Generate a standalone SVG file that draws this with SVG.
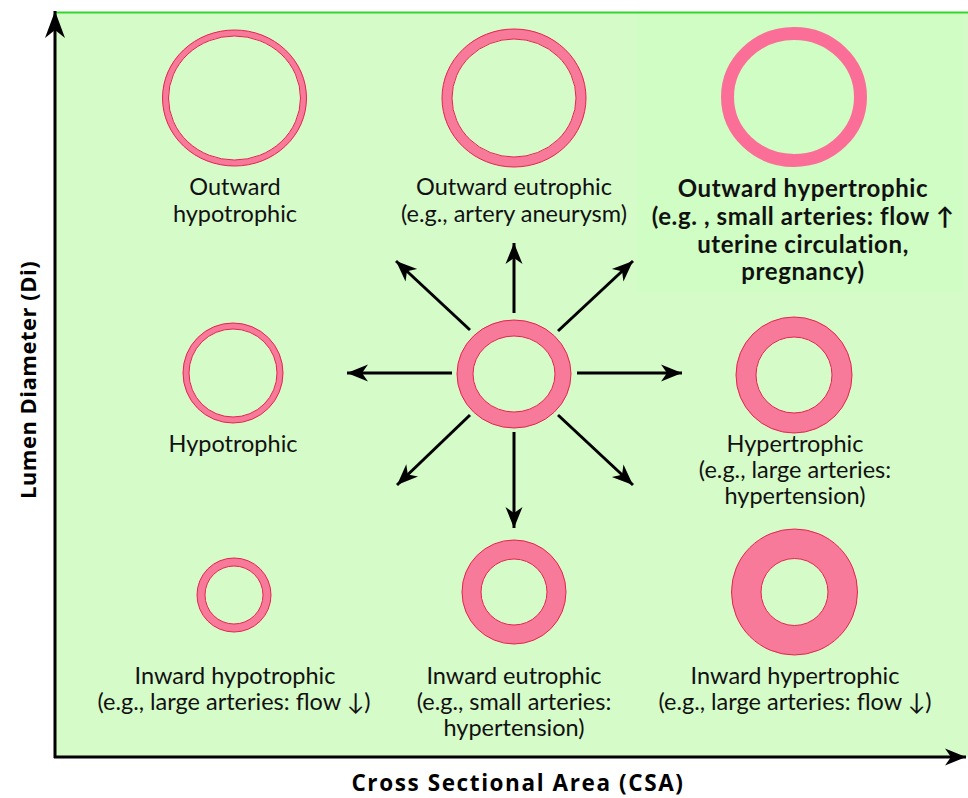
<svg xmlns="http://www.w3.org/2000/svg" width="968" height="798" viewBox="0 0 968 798">
<style>
.bg{fill:#d5fbc9}
.ring{fill:none;stroke:#f77a9b}
.edge{fill:none;stroke:#e6234e;stroke-width:1}
.lbl{font-family:Lato,"Open Sans",sans-serif;font-size:23.5px;fill:#111;text-anchor:middle}
.blbl{font-family:Lato,"Open Sans",sans-serif;font-size:24px;font-weight:bold;fill:#111;text-anchor:middle;letter-spacing:0.6px}
.axl{font-family:"Open Sans","Liberation Sans",sans-serif;font-weight:bold;fill:#000;text-anchor:middle}
.arr{stroke:#000;stroke-width:3;fill:none;marker-end:url(#ah)}
</style>
<defs>
<marker id="ah" markerUnits="userSpaceOnUse" markerWidth="24" markerHeight="20" viewBox="-22 -10 24 20" refX="0" refY="0" orient="auto">
<path d="M0,0 L-21,-8.5 L-15,0 L-21,8.5 Z" fill="#000"/>
</marker>
<marker id="ahy" markerUnits="userSpaceOnUse" markerWidth="30" markerHeight="24" viewBox="-28 -12 30 24" refX="0" refY="0" orient="auto">
<path d="M0,0 L-27,-10 L-19,0 L-27,10 Z" fill="#000"/>
</marker>
</defs>
<rect class="bg" x="55" y="12" width="913" height="745"/>
<rect x="637" y="13" width="326" height="279" fill="#cffdc3"/>
<line x1="55" y1="12.5" x2="968" y2="12.5" stroke="#35d62c" stroke-width="2"/>
<g id="axes">
<line x1="55" y1="758" x2="55" y2="11" stroke="#000" stroke-width="3" marker-end="url(#ahy)"/>
<line x1="54" y1="757" x2="966" y2="757" stroke="#000" stroke-width="3" marker-end="url(#ah)"/>
<text class="axl" x="518" y="791" style="font-size:22.5px;letter-spacing:1.6px">Cross Sectional Area (CSA)</text>
<text class="axl" transform="translate(36,380) rotate(-90)" x="0" y="0" style="font-size:22px;letter-spacing:0.5px">Lumen Diameter (Di)</text>
</g>
<g id="connectors">
<line class="arr" x1="514" y1="313" x2="514" y2="243"/>
<line class="arr" x1="514" y1="432" x2="514" y2="528"/>
<line class="arr" x1="452" y1="373" x2="347" y2="373"/>
<line class="arr" x1="577" y1="373" x2="682" y2="373"/>
<line class="arr" x1="470" y1="330" x2="396" y2="261"/>
<line class="arr" x1="558" y1="331" x2="633" y2="261"/>
<line class="arr" x1="470" y1="415" x2="397" y2="485"/>
<line class="arr" x1="558" y1="415" x2="633" y2="485"/>
</g>
<g id="center">
<ellipse class="ring" cx="514" cy="374" rx="49" ry="46" stroke-width="16"/>
<ellipse class="edge" cx="514" cy="374" rx="57" ry="54"/>
<ellipse class="edge" cx="514" cy="374" rx="41" ry="38"/>
</g>
<g id="outward-hypotrophic">
<ellipse class="ring" cx="234.5" cy="98" rx="69" ry="65" stroke-width="6"/>
<ellipse class="edge" cx="234.5" cy="98" rx="72" ry="68"/>
<ellipse class="edge" cx="234.5" cy="98" rx="66" ry="62"/>
<text class="lbl" x="235" y="195">Outward</text>
<text class="lbl" x="235" y="222">hypotrophic</text>
</g>
<g id="outward-eutrophic">
<ellipse class="ring" cx="514" cy="98" rx="67" ry="64" stroke-width="10"/>
<ellipse class="edge" cx="514" cy="98" rx="72" ry="69"/>
<ellipse class="edge" cx="514" cy="98" rx="62" ry="59"/>
<text class="lbl" x="514" y="195">Outward eutrophic</text>
<text class="lbl" x="514" y="222">(e.g., artery aneurysm)</text>
</g>
<g id="outward-hypertrophic">
<ellipse cx="794" cy="97" rx="66.5" ry="63.5" fill="none" stroke="#fb6e98" stroke-width="13"/>
<text class="blbl" x="803" y="197">Outward hypertrophic</text>
<text class="blbl" x="803" y="225">(e.g. , small arteries:  flow ↑</text>
<text class="blbl" x="803" y="253">uterine circulation,</text>
<text class="blbl" x="803" y="280">pregnancy)</text>
</g>
<g id="hypotrophic">
<circle class="ring" cx="233" cy="373" r="47" stroke-width="6"/>
<circle class="edge" cx="233" cy="373" r="50"/>
<circle class="edge" cx="233" cy="373" r="44"/>
<text class="lbl" x="233" y="452">Hypotrophic</text>
</g>
<g id="hypertrophic">
<circle class="ring" cx="794" cy="375" r="48" stroke-width="20"/>
<circle class="edge" cx="794" cy="375" r="58"/>
<circle class="edge" cx="794" cy="375" r="38"/>
<text class="lbl" x="795" y="452">Hypertrophic</text>
<text class="lbl" x="795" y="478">(e.g., large arteries:</text>
<text class="lbl" x="795" y="504">hypertension)</text>
</g>
<g id="inward-hypotrophic">
<circle class="ring" cx="234" cy="595" r="33" stroke-width="8"/>
<circle class="edge" cx="234" cy="595" r="37"/>
<circle class="edge" cx="234" cy="595" r="29"/>
<text class="lbl" x="235" y="684">Inward hypotrophic</text>
<text class="lbl" x="234" y="710">(e.g., large arteries: flow ↓)</text>
</g>
<g id="inward-eutrophic">
<circle class="ring" cx="514" cy="592" r="42.5" stroke-width="19"/>
<circle class="edge" cx="514" cy="592" r="52"/>
<circle class="edge" cx="514" cy="592" r="33"/>
<text class="lbl" x="514" y="684">Inward eutrophic</text>
<text class="lbl" x="514" y="710">(e.g., small arteries:</text>
<text class="lbl" x="514" y="736">hypertension)</text>
</g>
<g id="inward-hypertrophic">
<circle class="ring" cx="794.5" cy="592" r="48.25" stroke-width="29.5"/>
<circle class="edge" cx="794.5" cy="592" r="63"/>
<circle class="edge" cx="794.5" cy="592" r="33.5"/>
<text class="lbl" x="795" y="684">Inward hypertrophic</text>
<text class="lbl" x="795" y="710">(e.g., large arteries: flow ↓)</text>
</g>
</svg>
